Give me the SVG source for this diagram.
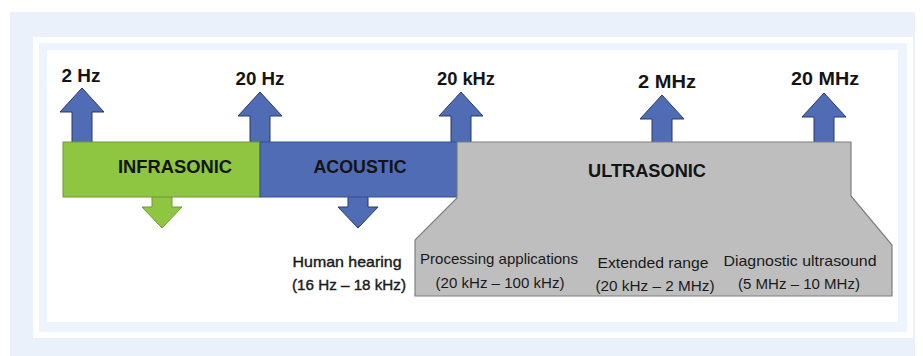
<svg xmlns="http://www.w3.org/2000/svg" width="923" height="356" viewBox="0 0 923 356">
<style>
.lbl{font-family:"Liberation Sans Narrow","Liberation Sans",Arial,sans-serif;font-weight:bold;font-size:18px;fill:#141414;text-anchor:middle}
.sub{font-family:"Liberation Sans Narrow","Liberation Sans",Arial,sans-serif;font-size:15px;fill:#1a1a1a;text-anchor:middle}
.subb{font-family:"Liberation Sans Narrow","Liberation Sans",Arial,sans-serif;font-size:15px;fill:#1a1a1a;stroke:#1a1a1a;stroke-width:0.4;text-anchor:middle}
.barg{fill:#8EC541;stroke:#6F9A33;stroke-width:1}
.barb{fill:#4F6CB5;stroke:#34508F;stroke-width:1}
.barx{fill:#BEBEBE;stroke:#7F7F7F;stroke-width:1.2}
.arb{fill:#4F6CB5;stroke:#26396B;stroke-width:1}
.arg{fill:#8EC541;stroke:#6F9A33;stroke-width:1}
</style>
<rect x="0" y="0" width="923" height="356" fill="#FFFFFF"/>
<rect x="10" y="12" width="905" height="344" fill="#EAF1FA"/>
<rect x="36" y="40" width="874" height="295" fill="#EEF4FB" stroke="#FFFFFF" stroke-width="6"/>
<rect x="47" y="50" width="851" height="272" fill="#FFFFFF"/>

<g id="f-2hz">
<path class="arb" d="M82,88 L104,112 L92,112 L92,145 L72,145 L72,112 L60,112 Z"/>
<text class="lbl" x="81" y="82" textLength="39" lengthAdjust="spacingAndGlyphs">2 Hz</text>
</g>
<g id="f-20hz">
<path class="arb" d="M260,92 L282,116 L270,116 L270,145 L250,145 L250,116 L238,116 Z"/>
<text class="lbl" x="260" y="85" textLength="49" lengthAdjust="spacingAndGlyphs">20 Hz</text>
</g>
<g id="f-20khz">
<path class="arb" d="M461,92 L483,116 L471,116 L471,145 L451,145 L451,116 L439,116 Z"/>
<text class="lbl" x="466" y="85" textLength="58" lengthAdjust="spacingAndGlyphs">20 kHz</text>
</g>
<g id="f-2mhz">
<path class="arb" d="M662,95 L684,119 L672,119 L672,145 L652,145 L652,119 L640,119 Z"/>
<text class="lbl" x="667" y="88" textLength="58" lengthAdjust="spacingAndGlyphs">2 MHz</text>
</g>
<g id="f-20mhz">
<path class="arb" d="M824,93 L846,117 L834,117 L834,145 L814,145 L814,117 L802,117 Z"/>
<text class="lbl" x="825" y="85" textLength="68" lengthAdjust="spacingAndGlyphs">20 MHz</text>
</g>

<g id="infrasonic">
<path class="arg" d="M152,194 L172,194 L172,207 L182,207 L162,228 L142,207 L152,207 Z"/>
<rect class="barg" x="63" y="142" width="197" height="55"/>
<text class="lbl" x="175" y="173" textLength="114" lengthAdjust="spacingAndGlyphs">INFRASONIC</text>
</g>

<g id="acoustic">
<path class="arb" d="M348,194 L368,194 L368,207 L378,207 L358,228 L338,207 L348,207 Z"/>
<rect class="barb" x="260" y="142" width="197" height="55"/>
<text class="lbl" x="360" y="173" textLength="93" lengthAdjust="spacingAndGlyphs">ACOUSTIC</text>
<text class="subb" x="347" y="267" textLength="109" lengthAdjust="spacingAndGlyphs">Human hearing</text>
<text class="subb" x="349" y="290" textLength="114" lengthAdjust="spacingAndGlyphs">(16 Hz – 18 kHz)</text>
</g>

<g id="ultrasonic">
<path class="barx" d="M457,142 L851,142 L851,196 L892,245 L892,296 L415,296 L415,240 L457,198 Z"/>
<text class="lbl" x="647" y="177" textLength="118" lengthAdjust="spacingAndGlyphs">ULTRASONIC</text>
<text class="sub" x="499" y="264" textLength="158" lengthAdjust="spacingAndGlyphs">Processing applications</text>
<text class="sub" x="500" y="288" textLength="129" lengthAdjust="spacingAndGlyphs">(20 kHz – 100 kHz)</text>
<text class="sub" x="653" y="268" textLength="111" lengthAdjust="spacingAndGlyphs">Extended range</text>
<text class="sub" x="655" y="291" textLength="119" lengthAdjust="spacingAndGlyphs">(20 kHz – 2 MHz)</text>
<text class="sub" x="800" y="266" textLength="153" lengthAdjust="spacingAndGlyphs">Diagnostic ultrasound</text>
<text class="sub" x="799" y="289" textLength="122" lengthAdjust="spacingAndGlyphs">(5 MHz – 10 MHz)</text>
</g>

<g id="connectors"></g>
</svg>
